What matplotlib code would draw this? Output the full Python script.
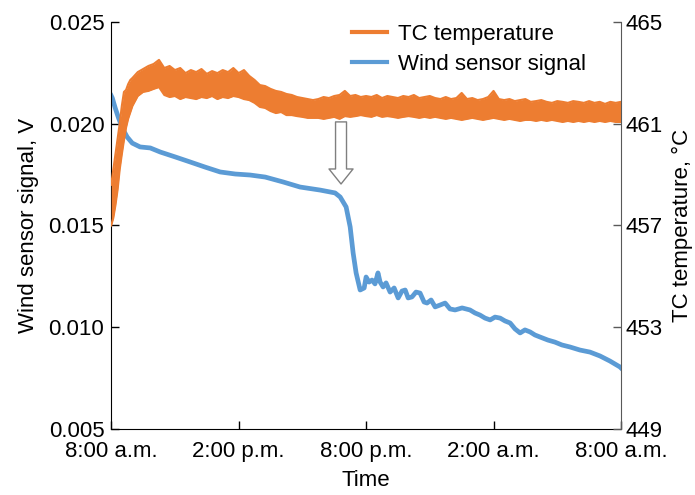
import matplotlib.pyplot as plt
from matplotlib.lines import Line2D

plt.rcParams['font.family'] = ['Liberation Sans', 'DejaVu Sans']

# x axis: hours after 8:00 a.m.
time_ticks = [0, 6, 12, 18, 24]
time_labels = ['8:00 a.m.', '2:00 p.m.', '8:00 p.m.', '2:00 a.m.', '8:00 a.m.']

wind_ticks = [0.005, 0.010, 0.015, 0.020, 0.025]
tc_ticks = [449, 453, 457, 461, 465]

# wind sensor signal (V)
wind_hours = [0.0, 0.05, 0.19, 0.33, 0.52, 0.75, 0.99, 1.36, 1.84, 2.31, 3.01, 3.72,
              4.42, 5.13, 5.84, 6.54, 7.25, 8.09, 8.89, 9.84, 10.54, 10.78, 11.06,
              11.25, 11.39, 11.53, 11.72, 11.91, 12.0, 12.14, 12.28, 12.42, 12.56,
              12.66, 12.80, 12.94, 13.13, 13.32, 13.51, 13.69, 13.84, 13.98, 14.16,
              14.35, 14.54, 14.73, 14.87, 15.06, 15.25, 15.48, 15.72, 15.95, 16.19,
              16.52, 16.89, 17.13, 17.36, 17.6, 17.84, 18.07, 18.31, 18.54, 18.78,
              19.01, 19.25, 19.48, 19.72, 19.95, 20.19, 20.56, 20.89, 21.22, 21.6,
              22.07, 22.54, 23.01, 23.48, 23.95, 24.0]
wind_volts = [0.02138, 0.02127, 0.02077, 0.02033, 0.01979, 0.01935, 0.01905, 0.01886,
              0.01881, 0.01861, 0.01837, 0.01812, 0.01787, 0.01763, 0.01753, 0.01748,
              0.01738, 0.01714, 0.01689, 0.01674, 0.01660, 0.01640, 0.01591, 0.01493,
              0.01365, 0.01267, 0.01183, 0.01193, 0.01247, 0.01222, 0.01232, 0.01213,
              0.01267, 0.01222, 0.01198, 0.01218, 0.01173, 0.01193, 0.01144, 0.01178,
              0.01183, 0.01144, 0.01149, 0.01173, 0.01168, 0.01124, 0.01119, 0.01134,
              0.01100, 0.01109, 0.01119, 0.01090, 0.01085, 0.01095, 0.01085, 0.01070,
              0.01060, 0.01045, 0.01036, 0.01050, 0.01045, 0.01031, 0.01021, 0.00992,
              0.00972, 0.00987, 0.00977, 0.00962, 0.00952, 0.00937, 0.00927, 0.00913,
              0.00903, 0.00888, 0.00878, 0.00859, 0.00834, 0.00805, 0.00800]

# TC temperature (deg C): upper / lower edge of the noisy band
tc_hours = [0.0, 0.1, 0.2, 0.3, 0.4, 0.5, 0.6, 0.7, 0.8, 0.9, 1.0,
            1.25, 1.5, 1.75, 2.0, 2.25, 2.5, 2.75, 3.0, 3.25, 3.5, 3.75, 4.0,
            4.25, 4.5, 4.75, 5.0, 5.25, 5.5, 5.75, 6.0, 6.25, 6.5, 6.75, 7.0,
            7.25, 7.5, 7.75, 8.0, 8.25, 8.5, 8.75, 9.0, 9.25, 9.5, 9.75, 10.0,
            10.25, 10.5, 10.75, 11.0, 11.25, 11.5, 11.75, 12.0, 12.25, 12.5, 12.75,
            13.0, 13.25, 13.5, 13.75, 14.0, 14.25, 14.5, 14.75, 15.0, 15.25, 15.5,
            15.75, 16.0, 16.25, 16.5, 16.75, 17.0, 17.25, 17.5, 17.75, 18.0, 18.25,
            18.5, 18.75, 19.0, 19.25, 19.5, 19.75, 20.0, 20.25, 20.5, 20.75, 21.0,
            21.25, 21.5, 21.75, 22.0, 22.25, 22.5, 22.75, 23.0, 23.25, 23.5, 23.75, 24.0]
tc_upper = [458.6, 459.2, 459.8, 460.4, 461.0, 461.7, 462.25, 462.33, 462.56, 462.72, 462.8,
            463.03, 463.15, 463.27, 463.35, 463.51, 463.19, 463.27, 463.11, 463.19, 462.99,
            463.11, 463.03, 463.15, 462.96, 463.07, 462.99, 463.11, 463.03, 463.19, 462.99,
            463.11, 462.88, 462.72, 462.52, 462.48, 462.37, 462.29, 462.25, 462.17, 462.13,
            462.05, 462.01, 461.97, 461.93, 461.97, 462.05, 462.01, 462.09, 462.13, 462.29,
            462.09, 462.13, 462.05, 462.09, 462.05, 462.13, 462.01, 462.09, 462.05, 462.01,
            462.09, 462.05, 462.13, 462.01, 462.05, 462.09, 462.01, 461.97, 462.05, 461.97,
            462.01, 462.21, 461.97, 462.01, 461.93, 461.97, 462.05, 462.29, 461.97, 461.93,
            461.97, 461.89, 461.93, 461.97, 461.86, 461.89, 461.93, 461.86, 461.82, 461.89,
            461.86, 461.82, 461.89, 461.86, 461.82, 461.89, 461.82, 461.86, 461.78, 461.86,
            461.82, 461.86]
tc_lower = [457.0, 457.3, 457.8, 458.4, 459.2, 459.8, 460.35, 460.85, 461.2, 461.45, 461.7,
            462.09, 462.25, 462.29, 462.37, 462.44, 462.13, 462.05, 462.09, 461.97, 462.05,
            462.01, 461.97, 462.05, 462.01, 462.09, 461.97, 462.05, 462.01, 462.09, 462.05,
            461.97, 461.93, 461.82, 461.66, 461.62, 461.50, 461.42, 461.46, 461.34, 461.34,
            461.30, 461.27, 461.23, 461.23, 461.23, 461.19, 461.23, 461.27, 461.19, 461.30,
            461.27, 461.30, 461.34, 461.30, 461.27, 461.34, 461.27, 461.30, 461.27, 461.23,
            461.27, 461.30, 461.27, 461.23, 461.27, 461.23, 461.27, 461.23, 461.19, 461.23,
            461.19, 461.15, 461.19, 461.23, 461.19, 461.15, 461.19, 461.23, 461.19, 461.15,
            461.19, 461.15, 461.11, 461.15, 461.15, 461.11, 461.15, 461.11, 461.15, 461.11,
            461.07, 461.11, 461.07, 461.11, 461.07, 461.11, 461.07, 461.11, 461.07, 461.11,
            461.07, 461.07]

# hollow arrow marking the drop (hours, volts)
arrow_x = 10.82
arrow_top = 0.02009
arrow_tip = 0.01704

orange = '#ED7D31'
blue = '#5B9BD5'
fs = 16

fig = plt.figure(figsize=(6.95, 4.95), dpi=100)
ax = fig.add_axes([0.160, 0.1333, 0.7335, 0.8223])
ax2 = ax.twinx()

ax.plot(wind_hours, wind_volts, color=blue, lw=3.4, solid_joinstyle='round')

ax2.fill_between(tc_hours, tc_lower, tc_upper, color=orange, lw=0)
ax2.plot(tc_hours, tc_upper, color=orange, lw=1.5)
ax2.plot(tc_hours, tc_lower, color=orange, lw=1.5)

ax.annotate('', xy=(arrow_x, arrow_tip), xytext=(arrow_x, arrow_top),
            arrowprops=dict(arrowstyle='simple,head_width=1.73,head_length=1.08,tail_width=0.79',
                            mutation_scale=10, fc='white', ec='#7f7f7f', lw=1,
                            shrinkA=0, shrinkB=0))

ax.set_xlim(0, 24)
ax.set_ylim(0.005, 0.025)
ax2.set_ylim(449, 465)
ax.set_xticks(time_ticks)
ax.set_xticklabels(time_labels)
ax.set_yticks(wind_ticks)
ax.set_yticklabels(['%.3f' % t for t in wind_ticks])
ax2.set_yticks(tc_ticks)

ax.tick_params(axis='y', direction='in', length=6, width=1, labelsize=fs, pad=5)
ax.tick_params(axis='x', direction='in', length=6, width=1, labelsize=fs, pad=8.5)
ax2.tick_params(axis='y', direction='in', length=6, width=1, labelsize=fs, pad=3,
                color='#595959')

ax.spines['top'].set_visible(False)
ax.spines['right'].set_visible(False)
for s in ['top', 'left', 'bottom']:
    ax2.spines[s].set_visible(False)
ax2.spines['right'].set_color('#595959')

ax.set_xlabel('Time', fontsize=fs, labelpad=6)
ax.set_ylabel('Wind sensor signal, V', fontsize=fs, labelpad=7)
ax2.set_ylabel('TC temperature, °C', fontsize=fs, labelpad=7)

handles = [Line2D([], [], color=orange, lw=3), Line2D([], [], color=blue, lw=3)]
ax.legend(handles, ['TC temperature', 'Wind sensor signal'], loc='upper left',
          bbox_to_anchor=(0.4725, 0.995), frameon=False, fontsize=fs,
          handlelength=1.55, handletextpad=0.5, labelspacing=0.4,
          borderpad=0, borderaxespad=0)

fig.savefig('out.png', dpi=100)
